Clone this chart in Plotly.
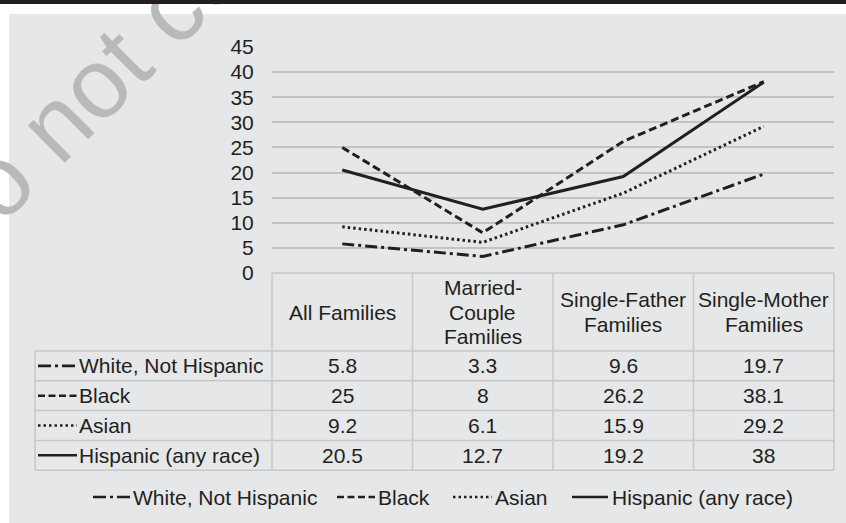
import plotly.graph_objects as go

# ---------------- data ----------------
categories = ["All Families", "Married-<br>Couple<br>Families",
              "Single-Father<br>Families", "Single-Mother<br>Families"]
series_names = ["White, Not Hispanic", "Black", "Asian", "Hispanic (any race)"]
white_not_hispanic = [5.8, 3.3, 9.6, 19.7]
black = [25, 8, 26.2, 38.1]
asian = [9.2, 6.1, 15.9, 29.2]
hispanic = [20.5, 12.7, 19.2, 38]
y_ticks = [0, 5, 10, 15, 20, 25, 30, 35, 40, 45]
watermark_text = "Do not copy, post, or distribute"

series_values = [white_not_hispanic, black, asian, hispanic]

# ---------------- style / layout ----------------
W, H = 846, 523
L, R, T, B = 272, 12, 47, 250
PW, PH = W - L - R, H - T - B
INK = "#231f20"
GRID = "#c2c3c5"
BORDER = "#c6c7c9"
BG = "#e6e7e8"
FONT = "Liberation Sans, Arial, Helvetica, sans-serif"
FS = 21

chart_dash = ["12px,4px,3px,4px", "8px,4px", "2.5px,3px", "solid"]
sample_dash = ["13px,4px,3px,4px", "7px,3.5px", "2.5px,3px", "solid"]


def px(x):
    return (x - L) / PW


def py(y):
    return (H - B - y) / PH


xs = list(range(len(categories)))

fig = go.Figure()
for name, vals, dash in zip(series_names, series_values, chart_dash):
    fig.add_trace(go.Scatter(
        x=xs, y=vals, mode="lines", name=name, showlegend=False,
        line=dict(color=INK, width=3, dash=dash),
        hoverinfo="skip"))

shapes = []
annotations = []

# background strips (white border around the grey panel)
shapes.append(dict(type="rect", xref="paper", yref="paper", layer="below",
                   x0=px(0), x1=px(9), y0=py(H), y1=py(0),
                   fillcolor="white", line=dict(width=0)))
shapes.append(dict(type="rect", xref="paper", yref="paper", layer="below",
                   x0=px(0), x1=px(W), y0=py(14), y1=py(0),
                   fillcolor="white", line=dict(width=0)))

# watermark
annotations.append(dict(text=watermark_text, xref="paper", yref="paper",
                        x=px(398), y=py(-220), xanchor="center", yanchor="middle",
                        textangle=-45, showarrow=False,
                        font=dict(family=FONT, size=99, color="#b8b9bb")))
# top black bar (above watermark)
annotations.append(dict(text=" ", xref="paper", yref="paper",
                        x=px(0), y=py(0), xanchor="left", yanchor="top",
                        width=W, height=4, bgcolor=INK, borderpad=0,
                        borderwidth=0, showarrow=False, font=dict(size=2)))

# ---------------- data table ----------------
table_top = 273
header_bottom = 351
row_h = 29.8
n_rows = len(series_names)
row_lines = [header_bottom + k * row_h for k in range(n_rows + 1)]
label_left = 35
ncol = len(categories)


def line(x0, y0, x1, y1):
    shapes.append(dict(type="line", xref="paper", yref="paper",
                       x0=x0, x1=x1, y0=y0, y1=y1,
                       line=dict(color=BORDER, width=1.5)))


line(0, py(table_top), 1, py(table_top))
for yy in row_lines:
    line(px(label_left), py(yy), 1, py(yy))
for k in range(ncol + 1):
    line(k / ncol, py(table_top), k / ncol, py(row_lines[-1]))
line(px(label_left), py(header_bottom), px(label_left), py(row_lines[-1]))

# header cells (category labels)
header_mid = (table_top + header_bottom) / 2
for i, cat in enumerate(categories):
    parts = cat.split("<br>")
    n = len(parts)
    for j, part in enumerate(parts):
        yy = header_mid + (j - (n - 1) / 2) * 24.5
        annotations.append(dict(text=part, xref="x", yref="paper", x=i, y=py(yy),
                                xanchor="center", yanchor="middle", showarrow=False,
                                font=dict(family=FONT, size=FS, color=INK)))


def sample(x0, x1, yc, dash):
    shapes.append(dict(type="line", xref="paper", yref="paper",
                       x0=px(x0), x1=px(x1), y0=py(yc), y1=py(yc),
                       line=dict(color=INK, width=2.6, dash=dash)))


def label(x, yc, text):
    annotations.append(dict(text=text, xref="paper", yref="paper", x=px(x), y=py(yc),
                            xanchor="left", yanchor="middle", showarrow=False,
                            borderpad=0,
                            font=dict(family=FONT, size=FS, color=INK)))


# table rows
for r, (name, vals, dash) in enumerate(zip(series_names, series_values, sample_dash)):
    yc = (row_lines[r] + row_lines[r + 1]) / 2
    sample(38, 77, yc, dash)
    label(78, yc, name)
    for i, v in enumerate(vals):
        annotations.append(dict(text=f"{v:g}", xref="x", yref="paper", x=i, y=py(yc),
                                xanchor="center", yanchor="middle", showarrow=False,
                                font=dict(family=FONT, size=FS, color=INK)))

# bottom legend
legend_y = 497
legend_samples = [(93, 132), (337, 375), (453, 492), (572, 608)]
legend_text_x = [132, 377, 494, 611]
for name, dash, (s0, s1), tx in zip(series_names, sample_dash, legend_samples, legend_text_x):
    sample(s0, s1, legend_y, dash)
    label(tx, legend_y, name)

fig.update_layout(
    width=W, height=H,
    margin=dict(l=L, r=R, t=T, b=B, pad=0),
    paper_bgcolor=BG, plot_bgcolor="rgba(0,0,0,0)",
    font=dict(family=FONT, size=FS, color=INK),
    showlegend=False,
    shapes=shapes, annotations=annotations,
    xaxis=dict(range=[-0.5, ncol - 0.5], showgrid=False, zeroline=False,
               showticklabels=False, showline=False, ticks="", fixedrange=True),
    yaxis=dict(range=[0, 45], tickvals=y_ticks, showgrid=True, gridcolor=GRID,
               gridwidth=1.5, zeroline=False, showline=False, ticks="outside",
               ticklen=13, tickcolor="rgba(0,0,0,0)",
               tickfont=dict(family=FONT, size=FS, color=INK), fixedrange=True),
)

fig.write_html("out.html", config={"displayModeBar": False})
